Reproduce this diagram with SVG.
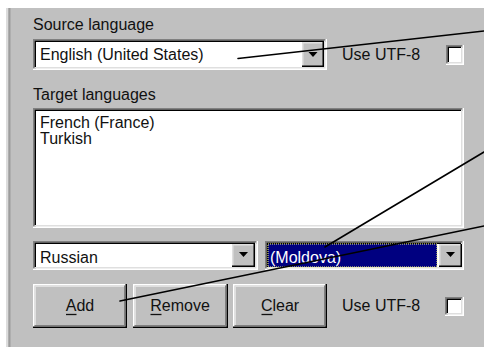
<svg xmlns="http://www.w3.org/2000/svg" width="484" height="347" viewBox="0 0 484 347">
<style>
text{font-family:"Liberation Sans",Arial,sans-serif;font-size:16px;fill:#111}
.sh{fill:none;stroke:#808080;stroke-width:1.5}
.dk{fill:none;stroke:#000;stroke-width:1.5}
.hl{fill:none;stroke:#fff;stroke-width:1.5}
.lt{fill:none;stroke:#dfdfdf;stroke-width:1.5}
.face{fill:#c0c0c0}
.box{fill:#fff}
.arr{fill:#000}
.conn{fill:none;stroke:#000;stroke-width:1.6;stroke-linecap:round}
</style>
<rect width="484" height="347" fill="#fff"/>
<rect x="6" y="8" width="478" height="339" fill="#c0c0c0"/>
<line x1="7" y1="8" x2="7" y2="347" stroke="#dcdcdc" stroke-width="2"/>
<line x1="9.5" y1="8" x2="9.5" y2="347" stroke="#9c9c9c" stroke-width="2"/>

<g id="source-label"><text x="33" y="30">Source language</text></g>

<g id="source-combo">
<rect class="box" x="33" y="39" width="294" height="31"/>
<path class="sh" d="M33.75 70V39.75H327"/>
<path class="dk" d="M35.25 68.5V41.25H325.5"/>
<path class="hl" d="M33 69.25H326.25V39"/>
<path class="lt" d="M34.5 67.75H324.75V40.5"/>
<rect class="face" x="302" y="42" width="22" height="25"/>
<path class="lt" d="M302.75 66V42.75H323"/>
<path class="dk" d="M302 66.25H323.25V42"/>
<polygon class="arr" points="308.5,52 317.5,52 313,57"/>
<text x="40" y="60">English (United States)</text>
</g>

<g id="utf8-top">
<text x="342" y="60">Use UTF-8</text>
<rect class="box" x="446" y="45" width="18" height="20"/>
<path class="sh" d="M446.75 65V45.75H464"/>
<path class="dk" d="M448.25 63.5V47.25H462.5"/>
<path class="hl" d="M446 64.25H463.25V45"/>
<path class="lt" d="M447.5 62.75H461.75V46.5"/>
</g>

<g id="target-label"><text x="33" y="100">Target languages</text></g>

<g id="target-list">
<rect class="box" x="33" y="108" width="431" height="120"/>
<path class="sh" d="M33.75 228V108.75H464"/>
<path class="dk" d="M35.25 226.5V110.25H462.5"/>
<path class="hl" d="M33 227.25H463.25V108"/>
<path class="lt" d="M34.5 225.75H461.75V109.5"/>
<text x="40" y="128">French (France)</text>
<text x="40" y="144">Turkish</text>
</g>

<g id="russian-combo">
<rect class="box" x="33" y="241" width="225" height="29"/>
<path class="sh" d="M33.75 270V241.75H258"/>
<path class="dk" d="M35.25 268.5V243.25H256.5"/>
<path class="hl" d="M33 269.25H257.25V241"/>
<path class="lt" d="M34.5 267.75H255.75V242.5"/>
<rect class="face" x="232" y="244" width="23" height="23"/>
<path class="lt" d="M232.75 266V244.75H254"/>
<path class="dk" d="M232 266.25H254.25V244"/>
<polygon class="arr" points="239,252 248,252 243.5,257"/>
<text x="40" y="263">Russian</text>
</g>

<g id="moldova-combo">
<rect class="box" x="265" y="241" width="199" height="29"/>
<path class="sh" d="M265.75 270V241.75H464"/>
<path class="dk" d="M267.25 268.5V243.25H462.5"/>
<path class="hl" d="M265 269.25H463.25V241"/>
<path class="lt" d="M266.5 267.75H461.75V242.5"/>
<rect x="268" y="244" width="169" height="23" fill="#000080" stroke="#ffff80" stroke-width="1" stroke-dasharray="1,1"/>
<rect class="face" x="439" y="244" width="23" height="23"/>
<path class="lt" d="M439.75 266V244.75H461"/>
<path class="dk" d="M439 266.25H461.25V244"/>
<polygon class="arr" points="446,252 455,252 450.5,257"/>
<text x="270" y="263" style="fill:#fff">(Moldova)</text>
</g>

<g id="add-button">
<rect class="face" x="33" y="284" width="94" height="44"/>
<path class="hl" d="M33.75 327V284.75H126"/>
<path class="dk" d="M33 327.25H126.25V284"/>
<path class="lt" d="M35.25 325.5V286.25H124.5"/>
<path class="sh" d="M34.5 325.75H124.75V285.5"/>
<text x="80" y="311" text-anchor="middle">Add</text>
<line x1="66" y1="314.5" x2="76.5" y2="314.5" stroke="#111" stroke-width="1.3"/>
</g>

<g id="remove-button">
<rect class="face" x="133" y="284" width="95" height="44"/>
<path class="hl" d="M133.75 327V284.75H227"/>
<path class="dk" d="M133 327.25H227.25V284"/>
<path class="lt" d="M135.25 325.5V286.25H225.5"/>
<path class="sh" d="M134.5 325.75H225.75V285.5"/>
<text x="180" y="311" text-anchor="middle">Remove</text>
<line x1="150.5" y1="314.5" x2="161.5" y2="314.5" stroke="#111" stroke-width="1.3"/>
</g>

<g id="clear-button">
<rect class="face" x="233" y="284" width="94" height="44"/>
<path class="hl" d="M233.75 327V284.75H326"/>
<path class="dk" d="M233 327.25H326.25V284"/>
<path class="lt" d="M235.25 325.5V286.25H324.5"/>
<path class="sh" d="M234.5 325.75H324.75V285.5"/>
<text x="280" y="311" text-anchor="middle">Clear</text>
<line x1="261.5" y1="314.5" x2="272.5" y2="314.5" stroke="#111" stroke-width="1.3"/>
</g>

<g id="utf8-bottom">
<text x="342" y="311">Use UTF-8</text>
<rect class="box" x="445" y="297" width="19" height="19"/>
<path class="sh" d="M445.75 316V297.75H464"/>
<path class="dk" d="M447.25 314.5V299.25H462.5"/>
<path class="hl" d="M445 315.25H463.25V297"/>
<path class="lt" d="M446.5 313.75H461.75V298.5"/>
</g>

<g id="connectors">
<line class="conn" x1="238" y1="58.5" x2="484" y2="31"/>
<line class="conn" x1="325" y1="247" x2="484" y2="152"/>
<line class="conn" x1="120" y1="301" x2="484" y2="226"/>
</g>
</svg>
